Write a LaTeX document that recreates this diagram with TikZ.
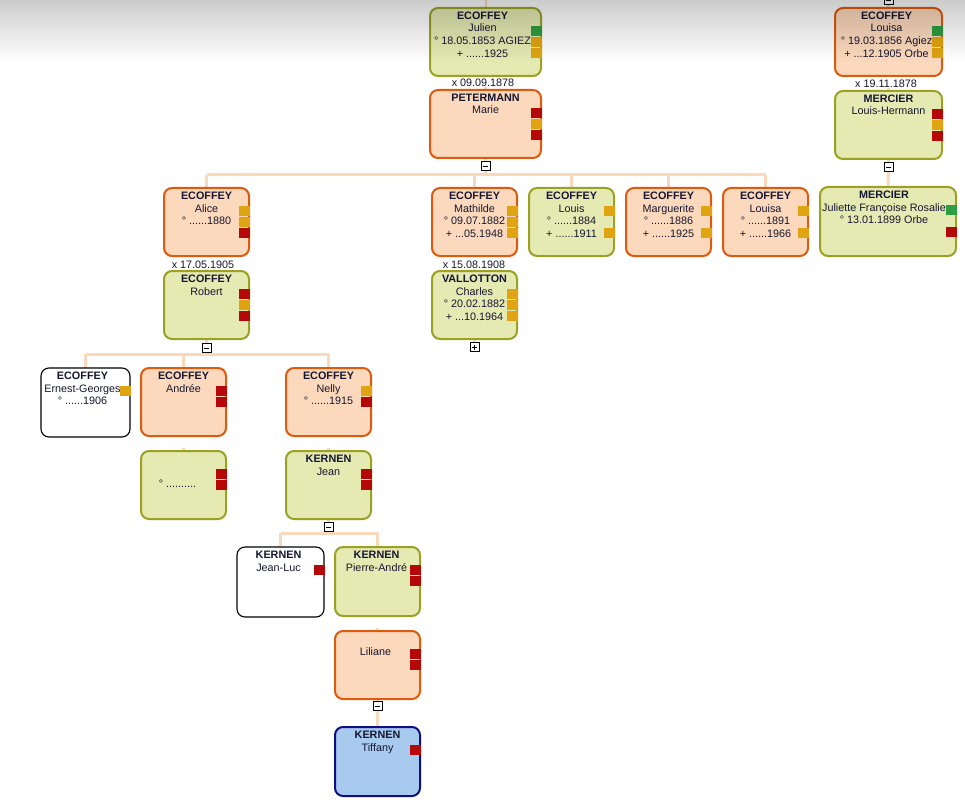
\documentclass[tikz,border=0pt]{standalone}
\usepackage{fontspec}
\setmainfont{Liberation Sans}
\usetikzlibrary{calc,fadings}
\definecolor{gfill}{HTML}{E5EAB3}
\definecolor{gdraw}{HTML}{9BA223}
\definecolor{ofill}{HTML}{FCD9BC}
\definecolor{odraw}{HTML}{DE5A0E}
\definecolor{bfill}{HTML}{A8CAEF}
\definecolor{bdraw}{HTML}{0E0E86}
\definecolor{linkc}{HTML}{FAD8BB}
\definecolor{sqR}{HTML}{B50808}
\definecolor{sqO}{HTML}{E0A412}
\definecolor{sqG}{HTML}{2E9E40}
\definecolor{txt}{HTML}{161630}
\tikzfading[name=topfade, top color=transparent!0, bottom color=transparent!100]
\pgfdeclarelayer{bg}
\pgfsetlayers{bg,main}
\newcommand{\sqm}[3]{\fill[#3] ($(#1.north east)+(1,#2)$) rectangle ++(-11,10);}
\newcommand{\fl}{\rule{0pt}{8pt}}
\begin{document}
\begin{tikzpicture}[x=1pt,y=-1pt,
  person/.style={rounded corners=8pt, line width=2pt, inner sep=0pt, outer sep=0pt},
  pgreen/.style={person, draw=gdraw, fill=gfill},
  porange/.style={person, draw=odraw, fill=ofill},
  pwhite/.style={person, draw=black, line width=1.1pt, fill=white},
  pblue/.style={person, draw=bdraw, fill=bfill},
  wh/.style args={#1x#2}{minimum width=#1pt, minimum height=#2pt},
  ptext/.style={align=center, inner sep=0pt, text=txt, anchor=north, font=\fontsize{10.8}{12.8}\selectfont},
  mlabel/.style={inner sep=0.5pt, fill=white, text=txt, font=\fontsize{10.8}{12.8}\selectfont},
  linkline/.style={draw=linkc, line width=3pt},
  toggle/.style={draw=black, line width=0.8pt, fill=white, minimum size=9pt, inner sep=0pt, outer sep=0pt},
  minusbox/.style={toggle, path picture={\draw[line width=0.8pt] ([xshift=-2.5pt]path picture bounding box.center) -- ([xshift=2.5pt]path picture bounding box.center);}},
  plusbox/.style={toggle, path picture={\draw[line width=0.8pt] ([xshift=-2.5pt]path picture bounding box.center) -- ([xshift=2.5pt]path picture bounding box.center) ([yshift=-2.5pt]path picture bounding box.center) -- ([yshift=2.5pt]path picture bounding box.center);}}
]
\useasboundingbox (0,0) rectangle (965,802);
\clip (0,0) rectangle (965,802);

% ---------- persons ----------
\node[pgreen, wh=111x68] (julien) at (485.5,42) {};
\node[ptext] at ($(julien.north)+(-3,3)$) {\fl\textbf{ECOFFEY}\\Julien\\° 18.05.1853 AGIEZ\\+ ......1925};
\sqm{julien}{18}{sqG}\sqm{julien}{29}{sqO}\sqm{julien}{40}{sqO}

\node[porange, wh=111x68] (marie) at (485.5,124) {};
\node[ptext] at ($(marie.north)+(0,3)$) {\fl\textbf{PETERMANN}\\Marie};
\sqm{marie}{18}{sqR}\sqm{marie}{29}{sqO}\sqm{marie}{40}{sqR}

\node[porange, wh=85x68] (alice) at (206.5,222) {};
\node[ptext] at ($(alice.north)+(0,3)$) {\fl\textbf{ECOFFEY}\\Alice\\° ......1880};
\sqm{alice}{18}{sqO}\sqm{alice}{29}{sqO}\sqm{alice}{40}{sqR}

\node[porange, wh=85x68] (mathilde) at (474.5,222) {};
\node[ptext] at ($(mathilde.north)+(0,3)$) {\fl\textbf{ECOFFEY}\\Mathilde\\° 09.07.1882\\+ ...05.1948};
\sqm{mathilde}{18}{sqO}\sqm{mathilde}{29}{sqO}\sqm{mathilde}{40}{sqO}

\node[pgreen, wh=85x68] (louis) at (571.5,222) {};
\node[ptext] at ($(louis.north)+(0,3)$) {\fl\textbf{ECOFFEY}\\Louis\\° ......1884\\+ ......1911};
\sqm{louis}{18}{sqO}\sqm{louis}{40}{sqO}

\node[porange, wh=85x68] (marguerite) at (668.5,222) {};
\node[ptext] at ($(marguerite.north)+(0,3)$) {\fl\textbf{ECOFFEY}\\Marguerite\\° ......1886\\+ ......1925};
\sqm{marguerite}{18}{sqO}\sqm{marguerite}{40}{sqO}

\node[porange, wh=85x68] (louisab) at (765.5,222) {};
\node[ptext] at ($(louisab.north)+(0,3)$) {\fl\textbf{ECOFFEY}\\Louisa\\° ......1891\\+ ......1966};
\sqm{louisab}{18}{sqO}\sqm{louisab}{40}{sqO}

\node[pgreen, wh=85x68] (robert) at (206.5,305) {};
\node[ptext] at ($(robert.north)+(0,3)$) {\fl\textbf{ECOFFEY}\\Robert};
\sqm{robert}{18}{sqR}\sqm{robert}{29}{sqO}\sqm{robert}{40}{sqR}

\node[pgreen, wh=85x68] (vallotton) at (474.5,305) {};
\node[ptext] at ($(vallotton.north)+(0,3)$) {\fl\textbf{VALLOTTON}\\Charles\\° 20.02.1882\\+ ...10.1964};
\sqm{vallotton}{18}{sqO}\sqm{vallotton}{29}{sqO}\sqm{vallotton}{40}{sqO}

\node[pwhite, wh=89x69] (ernest) at (85.5,402.5) {};
\node[ptext] at ($(ernest.north)+(-3,3)$) {\fl\textbf{ECOFFEY}\\Ernest-Georges\\° ......1906};
\sqm{ernest}{18}{sqO}

\node[porange, wh=85x68] (andree) at (183.5,402) {};
\node[ptext] at ($(andree.north)+(0,3)$) {\fl\textbf{ECOFFEY}\\Andrée};
\sqm{andree}{18}{sqR}\sqm{andree}{29}{sqR}

\node[pgreen, wh=85x68] (andspouse) at (183.5,485) {};
\node[ptext] at ($(andspouse.north)+(-6,3)$) {\fl\\\mbox{}\\° ..........};
\sqm{andspouse}{18}{sqR}\sqm{andspouse}{29}{sqR}

\node[porange, wh=85x68] (nelly) at (328.5,402) {};
\node[ptext] at ($(nelly.north)+(0,3)$) {\fl\textbf{ECOFFEY}\\Nelly\\° ......1915};
\sqm{nelly}{18}{sqO}\sqm{nelly}{29}{sqR}

\node[pgreen, wh=85x68] (jean) at (328.5,485) {};
\node[ptext] at ($(jean.north)+(0,3)$) {\fl\textbf{KERNEN}\\Jean};
\sqm{jean}{18}{sqR}\sqm{jean}{29}{sqR}

\node[pwhite, wh=87x70] (jeanluc) at (280.5,582) {};
\node[ptext] at ($(jeanluc.north)+(-2,3)$) {\fl\textbf{KERNEN}\\Jean-Luc};
\sqm{jeanluc}{18}{sqR}

\node[pgreen, wh=85x69] (pierre) at (377.5,581.5) {};
\node[ptext] at ($(pierre.north)+(-1,3)$) {\fl\textbf{KERNEN}\\Pierre-André};
\sqm{pierre}{18}{sqR}\sqm{pierre}{29}{sqR}

\node[porange, wh=85x68] (liliane) at (377.5,665) {};
\node[ptext] at ($(liliane.north)+(-2,3)$) {\fl\\Liliane};
\sqm{liliane}{18}{sqR}\sqm{liliane}{29}{sqR}

\node[pblue, wh=85x69] (tiffany) at (377.5,761.5) {};
\node[ptext] at ($(tiffany.north)+(0,3)$) {\fl\textbf{KERNEN}\\Tiffany};
\sqm{tiffany}{18}{sqR}

\node[porange, wh=107x68] (louisa) at (888.5,42) {};
\node[ptext] at ($(louisa.north)+(-2,3)$) {\fl\textbf{ECOFFEY}\\Louisa\\° 19.03.1856 Agiez\\+ ...12.1905 Orbe};
\sqm{louisa}{18}{sqG}\sqm{louisa}{29}{sqO}\sqm{louisa}{40}{sqO}

\node[pgreen, wh=107x68] (mercier) at (888.5,125) {};
\node[ptext] at ($(mercier.north)+(0,3)$) {\fl\textbf{MERCIER}\\Louis-Hermann};
\sqm{mercier}{18}{sqR}\sqm{mercier}{29}{sqO}\sqm{mercier}{40}{sqR}

\node[pgreen, wh=136x69] (juliette) at (888,221.5) {};
\node[ptext] at ($(juliette.north)+(-4,3)$) {\fl\textbf{MERCIER}\\Juliette Françoise Rosalie\\° 13.01.1899 Orbe};
\sqm{juliette}{18}{sqG}\sqm{juliette}{40}{sqR}

% ---------- toggles ----------
\node[minusbox] (tmarie) at (485.5,166) {};
\node[minusbox] (trobert) at (206.5,348) {};
\node[plusbox] (tvall) at (474.5,347) {};
\node[minusbox] (tjean) at (328.5,527) {};
\node[minusbox] (tlil) at (377.5,706) {};
\node[minusbox] (tmerc) at (888.5,167) {};
\node[minusbox] (ttop) at (888.5,0) {};

% ---------- marriage labels ----------
\node[mlabel] (mar1) at (483,83) {x 09.09.1878};
\node[mlabel] (mar2) at (886,84) {x 19.11.1878};
\node[mlabel] (mar3) at (203,265) {x 17.05.1905};
\node[mlabel] (mar4) at (474,265) {x 15.08.1908};

% ---------- connectors ----------
\coordinate (topj) at (485.5,0);
\coordinate (b1l) at (206.5,175);
\coordinate (b1r) at (765.5,175);
\coordinate (b2l) at (85.5,354);
\coordinate (b2r) at (328.5,354);
\coordinate (b3l) at (280.5,533);
\coordinate (b3r) at (377.5,533);
\begin{pgfonlayer}{bg}
\fill[white] (0,0) rectangle (965,802);
\draw[linkline, line width=2pt] (julien.north) -- (topj);
\foreach \s in {marie,robert,vallotton,andspouse,jean,liliane,mercier}
  \draw[linkline] ($(\s.north)+(0,-3)$) -- (\s.north);
\draw[linkline] (marie.south) -- (tmarie.north);
\draw[linkline] (tmarie.south) -- (tmarie.south |- b1l);
\draw[linkline] (b1l) -- (b1r);
\foreach \c in {alice,mathilde,louis,marguerite,louisab}
  \draw[linkline] (\c.north) -- (\c.north |- b1l);
\draw[linkline] (vallotton.south) -- (tvall.north);
\draw[linkline] (robert.south) -- (trobert.north);
\draw[linkline] (trobert.south) -- (trobert.south |- b2l);
\draw[linkline] (b2l) -- (b2r);
\foreach \c in {ernest,andree,nelly}
  \draw[linkline] (\c.north) -- (\c.north |- b2l);
\draw[linkline] (jean.south) -- (tjean.north);
\draw[linkline] (tjean.south) -- (tjean.south |- b3l);
\draw[linkline] (b3l) -- (b3r);
\foreach \c in {jeanluc,pierre}
  \draw[linkline] (\c.north) -- (\c.north |- b3l);
\draw[linkline] (liliane.south) -- (tlil.north);
\draw[linkline] (tlil.south) -- (tiffany.north);
\draw[linkline] (louisa.north) -- (ttop.south);
\draw[linkline] (mercier.south) -- (tmerc.north);
\draw[linkline] (tmerc.south) -- (juliette.north);
\end{pgfonlayer}

% ---------- top shading ----------
\fill[black, fill opacity=0.2, path fading=topfade] (0,0) rectangle (965,62);
\end{tikzpicture}
\end{document}
